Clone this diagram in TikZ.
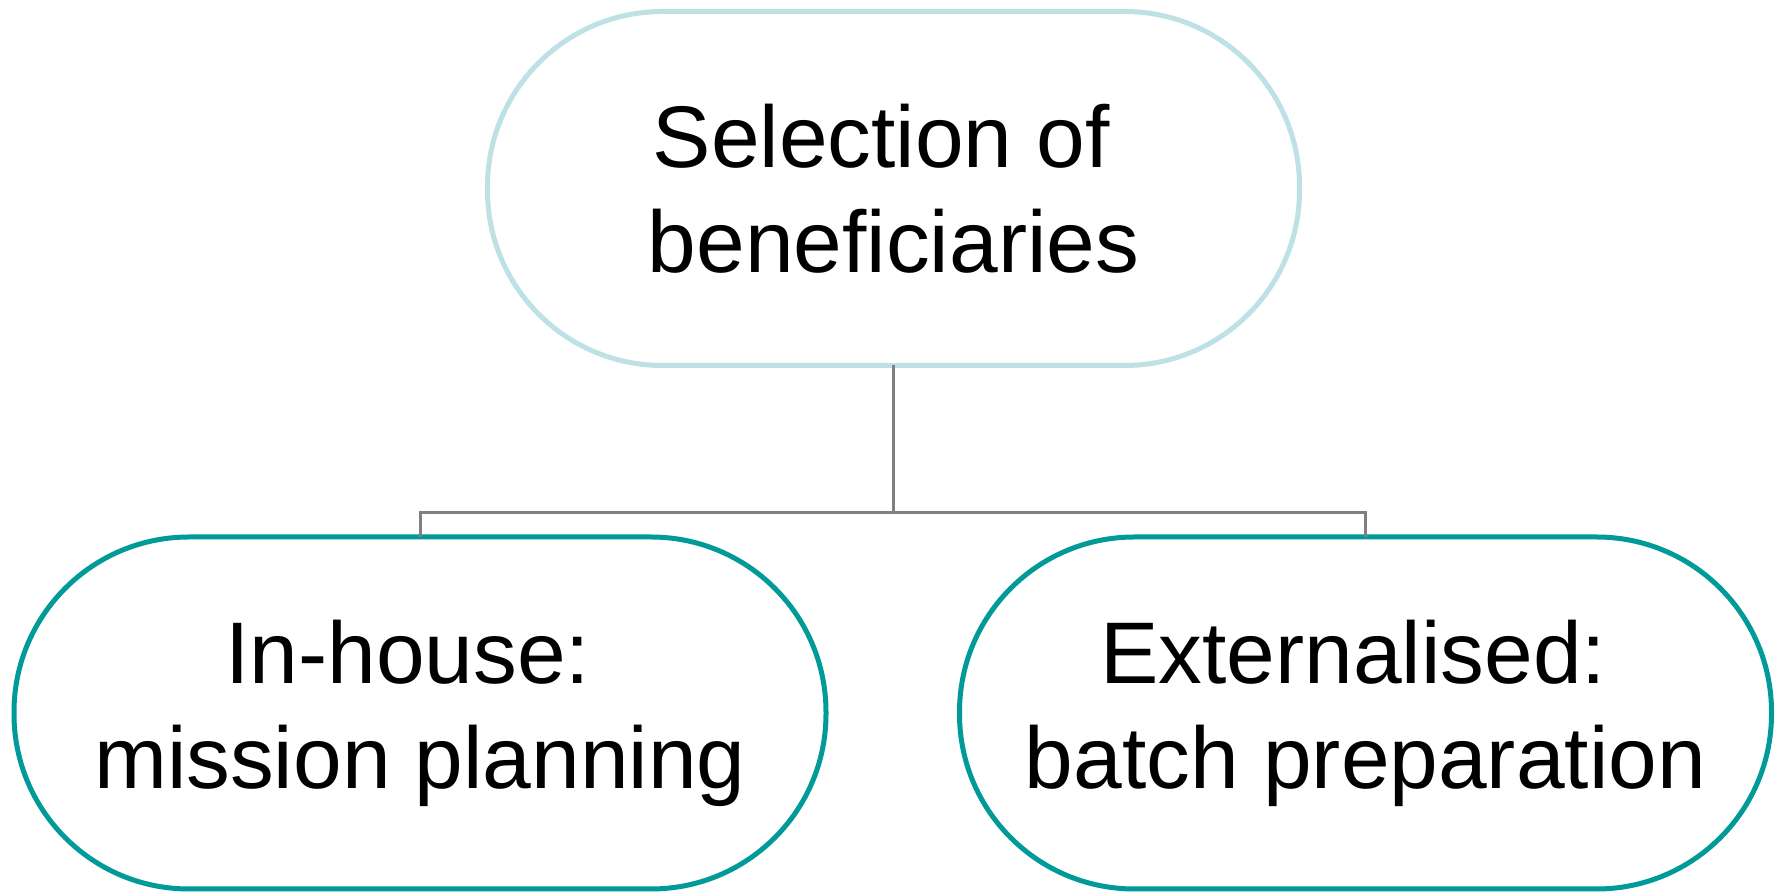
\documentclass[tikz,border=0pt]{standalone}
\usepackage{fontspec}
\setmainfont{Liberation Sans}
\definecolor{paleteal}{HTML}{BDE1E4}
\definecolor{teal}{HTML}{009B98}
\definecolor{linkgray}{HTML}{808080}
% a trailing word space that survives the line break
\newcommand{\tailspace}{\rule{0.278em}{0pt}}
\begin{document}
\begin{tikzpicture}[x=1pt,y=1pt,
  pill/.style={draw, line width=5pt, fill=white, rectangle, rounded corners=175pt,
    minimum width=812pt, minimum height=354pt, inner sep=0pt, outer sep=0pt,
    align=center, font=\fontsize{87.5pt}{105pt}\selectfont},
  rootpill/.style={pill, draw=paleteal},
  leafpill/.style={pill, draw=teal, minimum height=352pt},
  link/.style={draw=linkgray, line width=3pt}]
  \fill[white] (0,0) rectangle (1786,893);
  \useasboundingbox (0,0) rectangle (1786,893);

  \node[rootpill] (root) at (893.5,704.5) {Selection of\tailspace\\beneficiaries};
  \node[leafpill] (inhouse) at (420,180) {In-house:\tailspace\\mission planning};
  \node[leafpill] (external) at (1365.5,180) {Externalised:\tailspace\\batch preparation};

  \coordinate (fork) at (893.5,380);
  \draw[link] (root.south) -- (fork);
  \draw[link] (fork) -| (inhouse.north);
  \draw[link] (fork) -| (external.north);
\end{tikzpicture}
\end{document}
